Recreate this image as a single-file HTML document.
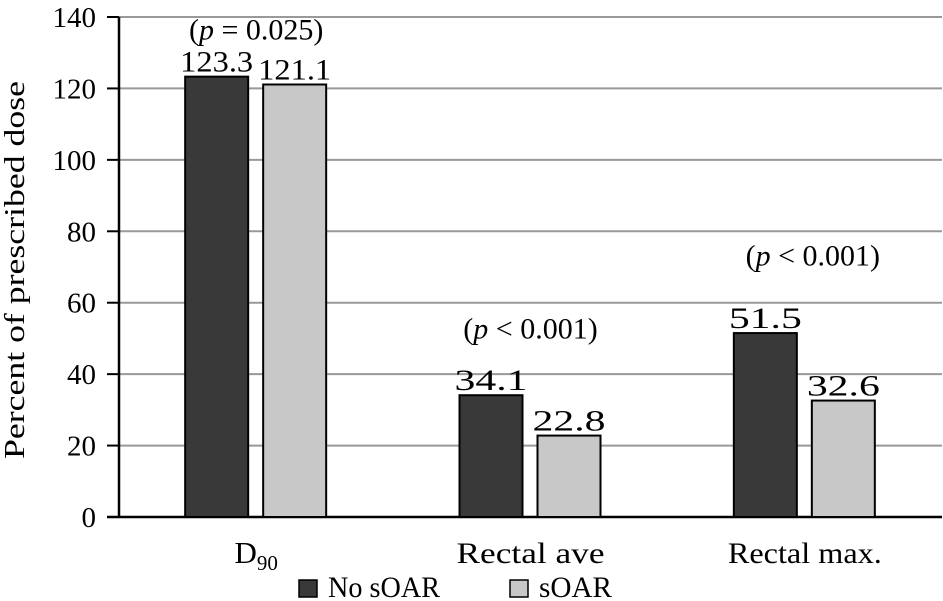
<!DOCTYPE html>
<html><head><meta charset="utf-8"><style>
body{margin:0;background:#fff}
svg{display:block;font-family:"Liberation Serif",serif}
</style></head><body>
<svg id="c" width="943" height="601"></svg>
<script>
const categories=["D90","Rectal ave","Rectal max."];
const noSoar=[123.3,34.1,51.5];
const soar=[121.1,22.8,32.6];
const pLabels=["= 0.025","< 0.001","< 0.001"];
const pValuesY=[137,53.3,73.8];
const yTicks=[0,20,40,60,80,100,120,140];
const NS="http://www.w3.org/2000/svg";
const svg=document.getElementById('c');
const x0=119,x1=942,y0=517,y1=17;
const yS=v=>y0-(v/140)*(y0-y1);
const bw=(x1-x0)/3;
const cx=i=>x0+bw*(i+0.5);
function mk(t,a,txt){const e=document.createElementNS(NS,t);for(const k in a)e.setAttribute(k,a[k]);if(txt!=null)e.textContent=txt;svg.appendChild(e);return e;}
yTicks.forEach(v=>{
  if(v>0){const g=mk('line',{x1:x0,x2:x1,y1:yS(v),y2:yS(v),stroke:'#999','stroke-width':2});
  
  }
  const t=mk('line',{x1:107,x2:x0,y1:yS(v),y2:yS(v),stroke:'#000','stroke-width':2});
  
  
  const l=mk('text',{x:96,y:yS(v)+10,'text-anchor':'end','font-size':29},v);
  
  
});
const ax=mk('line',{x1:x0,x2:x0,y1:y1,y2:y0,stroke:'#000','stroke-width':2.5});


const bx=mk('line',{x1:107,x2:x1,y1:y0,y2:y0,stroke:'#000','stroke-width':2.5});


categories.forEach((c,i)=>{
  const c0=cx(i);
  [[noSoar[i],'#393939',c0-71],[soar[i],'#c8c8c8',c0+7]].forEach(([v,col,bxp],j)=>{
    const r=mk('rect',{x:bxp,y:yS(v),width:63,height:y0-yS(v),fill:col,stroke:'#000','stroke-width':2});
    
    
    const t=mk('text',{x:bxp+31.5,y:yS(v)-5,'text-anchor':'middle','font-size':30,textLength:73,lengthAdjust:'spacingAndGlyphs'},v.toFixed(1));
    
    
  });
  const p=mk('text',{x:c0+(i==2?8:0),y:yS(pValuesY[i])+12,'text-anchor':'middle','font-size':30});
  p.innerHTML='(<tspan font-style="italic">p</tspan> '+pLabels[i]+')';
  
  
  let cl;
  if(i==0){cl=mk('text',{x:c0,y:563,'text-anchor':'middle','font-size':31});cl.innerHTML='D<tspan font-size="21" dy="7">90</tspan>';}
  else cl=mk('text',{x:c0,y:563,'text-anchor':'middle','font-size':30,textLength:i==1?148:154,lengthAdjust:'spacingAndGlyphs'},c);
  
  
});
const yt=mk('text',{x:0,y:0,transform:'translate(24,270) rotate(-90)','text-anchor':'middle','font-size':29,textLength:378,lengthAdjust:'spacingAndGlyphs'},'Percent of prescribed dose');


[['#393939','No sOAR',299,'legend-no-soar',112],['#c8c8c8','sOAR',510,'legend-soar',73]].forEach(([col,txt,lx,n,w])=>{
  const s=mk('rect',{x:lx,y:580,width:18,height:17,fill:col,stroke:'#000','stroke-width':1.5});
  
  
  const t=mk('text',{x:lx+29,y:597,'font-size':30,textLength:w,lengthAdjust:'spacingAndGlyphs'},txt);
  
  
});
</script>
</body></html>
